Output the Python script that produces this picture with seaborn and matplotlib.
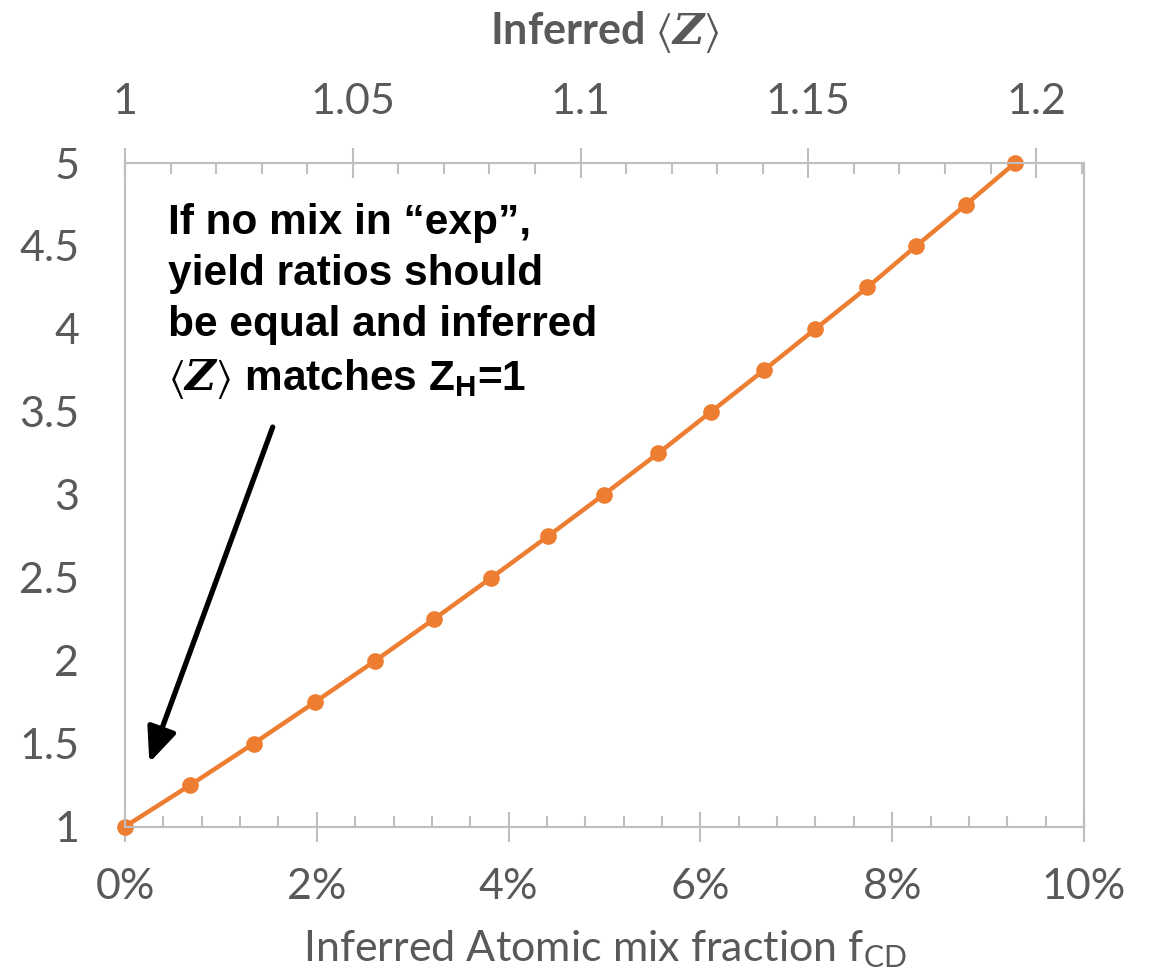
import matplotlib
matplotlib.use("Agg")
import matplotlib.pyplot as plt
import seaborn as sns
import pandas as pd
from matplotlib.ticker import PercentFormatter, MultipleLocator, FixedLocator, FixedFormatter

# Inferred atomic mix fraction (fraction of 1) versus yield ratio
mix_fraction = [0.0, 0.0068, 0.0134, 0.0198, 0.0261, 0.0322, 0.0382, 0.0441,
                0.0499, 0.0556, 0.0611, 0.0666, 0.0720, 0.0774, 0.0825, 0.0877, 0.0928]
yield_ratio = [1.0, 1.25, 1.5, 1.75, 2.0, 2.25, 2.5, 2.75,
               3.0, 3.25, 3.5, 3.75, 4.0, 4.25, 4.5, 4.75, 5.0]

x_ticks = [0.0, 0.02, 0.04, 0.06, 0.08, 0.10]
y_ticks = [1, 1.5, 2, 2.5, 3, 3.5, 4, 4.5, 5]
y_tick_labels = ["1", "1.5", "2", "2.5", "3", "3.5", "4", "4.5", "5"]
z_ticks = [1.0, 1.05, 1.1, 1.15, 1.2]
z_tick_labels = ["1", "1.05", "1.1", "1.15", "1.2"]

note_lines = [
    "If no mix in \u201cexp\u201d,",
    "yield ratios should",
    "be equal and inferred",
    r"$\langle\mathbfit{Z}\rangle$ matches Z$_{\mathbf{H}}$=1",
]

ORANGE = "#ED7D31"
AXIS_GRAY = "#BFBFBF"
TEXT_GRAY = "#595959"

sns.set_theme(style="white")
plt.rcParams["font.family"] = ["Lato", "DejaVu Sans"]
plt.rcParams.update({
    "mathtext.fontset": "custom",
    "mathtext.rm": "Lato",
    "mathtext.bf": "Liberation Sans:bold",
    "mathtext.bfit": "DejaVu Serif:italic:bold",
    "mathtext.fallback": "stix",
})

df = pd.DataFrame({"mix": mix_fraction, "ratio": yield_ratio})

fig = plt.figure(figsize=(11.49, 9.74), dpi=100)
ax = fig.add_axes([0.1088, 0.1514, 0.8346, 0.6812])

sns.lineplot(data=df, x="mix", y="ratio", ax=ax, color=ORANGE, linewidth=3.2,
             marker="o", markersize=12, markeredgewidth=0, sort=False,
             legend=False, zorder=5)
for ln in ax.lines:
    ln.set_clip_on(False)

ax.set_xlim(0, 0.10)
ax.set_ylim(1, 5)
ax.grid(False)

# bottom axis: percent scale
ax.xaxis.set_major_locator(FixedLocator(x_ticks))
ax.xaxis.set_major_formatter(PercentFormatter(xmax=1, decimals=0))
ax.xaxis.set_minor_locator(MultipleLocator(0.004))
ax.tick_params(axis="x", which="major", direction="inout", length=21, width=1.5,
               color=AXIS_GRAY, labelcolor=TEXT_GRAY, labelsize=31, pad=19,
               bottom=True)
ax.tick_params(axis="x", which="minor", direction="in", length=8, width=1.5,
               color=AXIS_GRAY, bottom=True)

# left axis: labels only
ax.yaxis.set_major_locator(FixedLocator(y_ticks))
ax.yaxis.set_major_formatter(FixedFormatter(y_tick_labels))
ax.tick_params(axis="y", which="both", length=0, pad=33, labelcolor=TEXT_GRAY,
               labelsize=31, left=False)

ax.set_xlabel(r"Inferred Atomic mix fraction f$_{\mathrm{CD}}$", fontsize=31,
              color=TEXT_GRAY, labelpad=16)
ax.set_ylabel("")

# top axis: inferred mean charge
ax2 = ax.twiny()
ax2.set_xlim(1.0, 1.2105)
ax2.xaxis.set_major_locator(FixedLocator(z_ticks))
ax2.xaxis.set_major_formatter(FixedFormatter(z_tick_labels))
ax2.xaxis.set_minor_locator(MultipleLocator(0.01))
ax2.tick_params(axis="x", which="major", direction="inout", length=21, width=1.5,
                color=AXIS_GRAY, labelcolor=TEXT_GRAY, labelsize=31, pad=20,
                top=True)
ax2.tick_params(axis="x", which="minor", direction="in", length=8, width=1.5,
                color=AXIS_GRAY, top=True)
ax2.set_xlabel(r"Inferred $\langle\mathbfit{Z}\rangle$", fontsize=31,
               fontweight="bold", color=TEXT_GRAY, labelpad=28)
ax2.grid(False)

for a in (ax, ax2):
    for sp in a.spines.values():
        sp.set_color(AXIS_GRAY)
        sp.set_linewidth(1.5)
        sp.set_visible(True)

# annotation
ax.text(0.0045, 4.76, "\n".join(note_lines), ha="left", va="top",
        fontsize=30.5, fontweight="bold", color="black",
        family=["Liberation Sans", "DejaVu Sans"], linespacing=1.36, zorder=6)
ax.annotate("", xy=(0.00254, 1.385), xytext=(0.0154, 3.408),
            arrowprops=dict(arrowstyle="-|>,head_length=0.7,head_width=0.3",
                            color="black", lw=3.8, mutation_scale=30,
                            shrinkA=0, shrinkB=0), zorder=6)

fig.savefig("out.png", dpi=100)
